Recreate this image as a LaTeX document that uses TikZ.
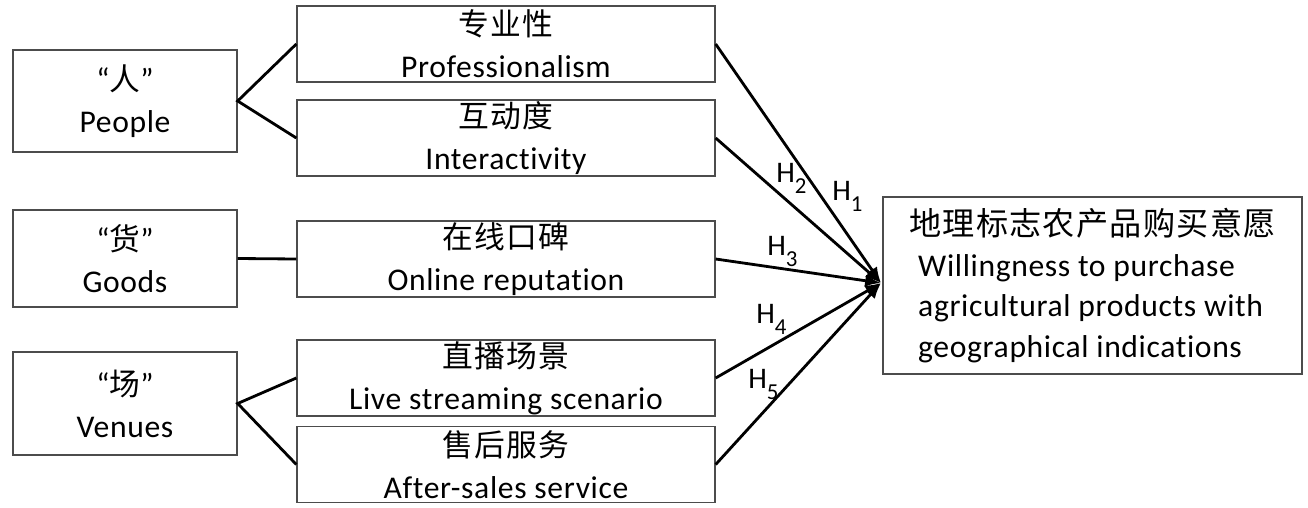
\documentclass[tikz,border=0pt]{standalone}
\usepackage{fontspec}
\setmainfont{Carlito}[Ligatures=NoCommon, LetterSpace=2]
\newfontfamily\cjk{Noto Sans CJK SC}[LetterSpace=4]
\usepackage{tikz}
\usetikzlibrary{positioning, calc, arrows.meta}

\newcommand{\hyp}[1]{H\raisebox{-0.4em}{\fontsize{13}{13}\selectfont #1}}

\tikzset{
    frame/.style={draw=black!70, line width=0.8pt, align=center, inner sep=0pt,
        font=\fontsize{18}{24}\selectfont},
    dimbox/.style={frame, minimum width=4.48cm},
    factorbox/.style={frame, minimum width=8.36cm, minimum height=1.52cm},
    link/.style={line width=1.6pt},
    arr/.style={line width=1.6pt, -{Latex[length=9pt, width=7pt]}},
    hlab/.style={anchor=base west, inner sep=0pt, font=\fontsize{17}{17}\selectfont}
}

\begin{document}
\begin{tikzpicture}[x=0.02cm, y=-0.02cm]
    \useasboundingbox (0, 0) rectangle (1308, 507);

    % dimensions
    \node[dimbox, minimum height=2.04cm] (people) at (125, 101) {“{\cjk\fontsize{17.5}{24}\selectfont 人}”\\People};
    \node[dimbox, minimum height=1.94cm] (goods) at (125, 258.5) {“{\cjk\fontsize{17.5}{24}\selectfont 货}”\\Goods};
    \node[dimbox, minimum height=2.06cm] (venues) at (125, 403.5) {“{\cjk\fontsize{17.5}{24}\selectfont 场}”\\Venues};

    % factors
    \node[factorbox] (prof) at (506, 44) {{\cjk\fontsize{17.5}{24}\selectfont 专业性}\\Professionalism};
    \node[factorbox] (inter) at (506, 138) {{\cjk\fontsize{17.5}{24}\selectfont 互动度}\\Interactivity};
    \node[factorbox] (online) at (506, 259) {{\cjk\fontsize{17.5}{24}\selectfont 在线口碑}\\Online reputation};
    \node[factorbox] (live) at (506, 378) {{\cjk\fontsize{17.5}{24}\selectfont 直播场景}\\Live streaming scenario};
    \node[factorbox] (after) at (506, 464.5) {{\cjk\fontsize{17.5}{24}\selectfont 售后服务}\\After-sales service};

    % outcome
    \node[frame, align=left, minimum width=8.38cm, minimum height=3.54cm,
        font=\fontsize{18}{23}\selectfont] (will) at (1092.5, 285.5)
        {{\cjk\fontsize{18.3}{23}\selectfont 地理标志农产品购买意愿}\\
         \hspace*{0.18cm}Willingness to purchase\\
         \hspace*{0.18cm}agricultural products with\\
         \hspace*{0.18cm}geographical indications};
    \coordinate (tip) at (881, 283);

    \draw[link] (prof.west) -- (people.east) -- (inter.west);
    \draw[link] (goods.east) -- (online.west);
    \draw[link] (live.west) -- (venues.east) -- (after.west);

    \foreach \n in {prof, inter, online, live, after}
        \draw[arr] (\n.east) -- (tip);

    \node[hlab] (h1) at (832, 200) {\hyp{1}};
    \node[hlab] (h2) at (776, 182) {\hyp{2}};
    \node[hlab] (h3) at (767, 255) {\hyp{3}};
    \node[hlab] (h4) at (756, 323) {\hyp{4}};
    \node[hlab] (h5) at (748, 388) {\hyp{5}};
\end{tikzpicture}
\end{document}
